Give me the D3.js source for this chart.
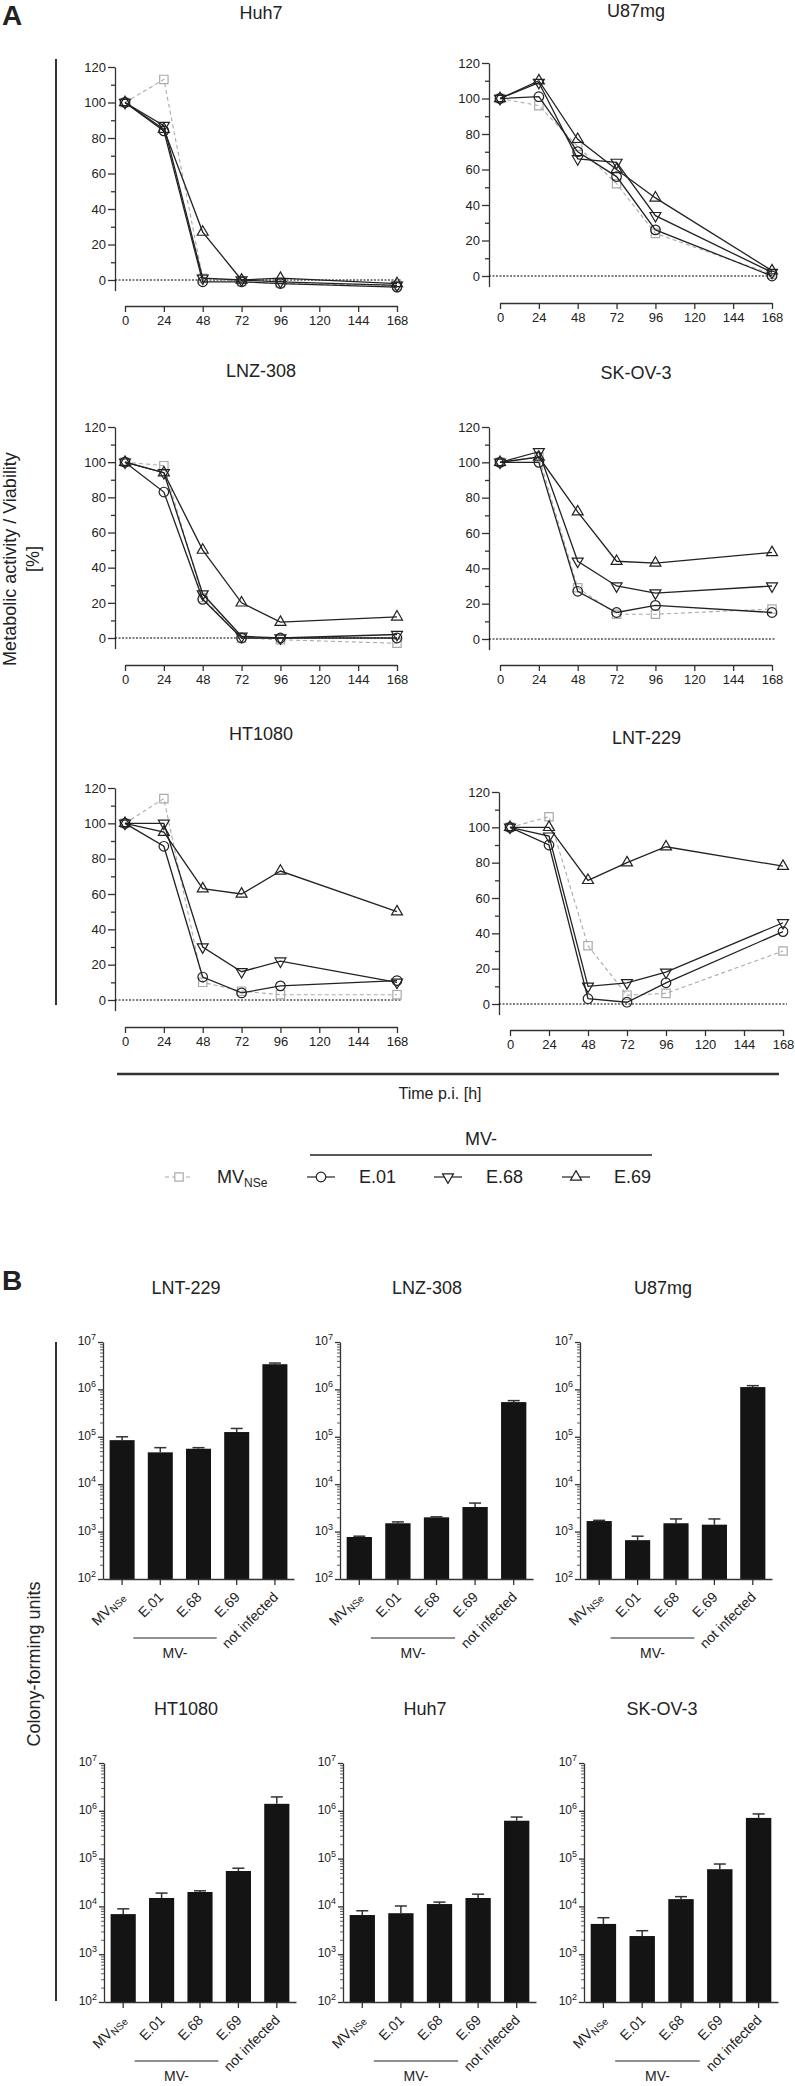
<!DOCTYPE html>
<html>
<head>
<meta charset="utf-8">
<script src="https://cdn.jsdelivr.net/npm/d3@7"></script>
<style>
  body { margin: 0; background: #fff; }
  text { font-family: "Liberation Sans", Arial, sans-serif; fill: #222; }
</style>
</head>
<body>
<script>
// ---- data: panel A (metabolic activity, %) ----
const times = [0, 24, 48, 72, 96, 168];
const timeTicks = [0, 24, 48, 72, 96, 120, 144, 168];
const seriesNames = ["MVNSe", "E.01", "E.68", "E.69"];
// rows = MVNSe, E.01, E.68, E.69
const huh7 = [[100, 113, 1, -1, -2, -3], [100, 84, -1, -1, -2, -4], [100, 87, 1, 0, -1, -3], [100, 85, 27, 0, 1, -2]];
const u87mg = [[100, 96, 73, 52, 24, 1], [100, 101, 70, 56, 26, 0], [100, 109, 66, 64, 34, 2], [100, 110, 77, 60, 44, 3]];
const lnz308 = [[100, 98, 23, 0, -1, -3], [100, 83, 22, 0, 0, 0], [100, 94, 25, 1, 0, 2], [100, 94, 50, 20, 9, 12]];
const skov3 = [[100, 103, 29, 14, 14, 17], [100, 100, 27, 15, 19, 15], [100, 106, 44, 30, 26, 30], [100, 103, 72, 44, 43, 49]];
const ht1080 = [[100, 114, 10, 5, 3, 3], [100, 87, 13, 4, 8, 11], [100, 100, 30, 16, 22, 10], [100, 95, 63, 60, 73, 50]];
const lnt229 = [[100, 106, 33, 5, 6, 30], [100, 90, 3, 1, 12, 41], [100, 95, 10, 12, 18, 46], [100, 100, 70, 80, 89, 78]];

// ---- data: panel B (colony-forming units) ----
const barCats = ["MVNSe", "E.01", "E.68", "E.69", "not infected"];
const cfuLNT229 = [8.5e4, 4.7e4, 5.6e4, 1.26e5, 3.4e6];
const sdLNT229 = [1.5e4, 1.2e4, 3e3, 2.4e4, 2e5];
const cfuLNZ308 = [7.7e2, 1.5e3, 2.0e3, 3.3e3, 5.4e5];
const sdLNZ308 = [30, 100, 50, 700, 4e4];
const cfuU87mg = [1.67e3, 6.6e2, 1.5e3, 1.4e3, 1.12e6];
const sdU87mg = [60, 140, 350, 450, 8e4];
const cfuHT1080 = [6.9e3, 1.5e4, 2.0e4, 5.5e4, 1.4e6];
const sdHT1080 = [2e3, 4e3, 1.2e3, 8e3, 5.5e5];
const cfuHuh7 = [6.6e3, 7.2e3, 1.12e4, 1.5e4, 6.2e5];
const sdHuh7 = [1.5e3, 3e3, 1.1e3, 3e3, 1.2e5];
const cfuSKOV3 = [4.3e3, 2.4e3, 1.42e4, 6.0e4, 7.1e5];
const sdSKOV3 = [1.5e3, 7e2, 1.8e3, 1.7e4, 1.5e5];

const W = 795, H = 2086;
const svg = d3.select("body").append("svg").attr("width", W).attr("height", H);

const axisColor = "#333";
const symbols = [
  {type: d3.symbolSquare, size: 70, rot: 0},
  {type: d3.symbolCircle, size: 72, rot: 0},
  {type: d3.symbolTriangle, size: 52, rot: 180},
  {type: d3.symbolTriangle, size: 52, rot: 0}
];
const seriesColor = ["#aaa", "#222", "#222", "#222"];

function styleAxis(g, fs) {
  g.selectAll("path, line").attr("stroke", axisColor).attr("stroke-width", 1.3);
  g.selectAll("text").attr("font-size", fs).attr("fill", "#333")
    .style("font-family", '"Liberation Sans", Arial, sans-serif');
}

// ----- panel A -----
function linePanel(p, title, data) {
  const x = d3.scaleLinear().domain([0, 168]).range([p.x0, p.x1]);
  const unit = (p.y0 - p.y120) / 120;
  const y = d3.scaleLinear().domain([-6, 120]).range([p.y0 + 6 * unit, p.y120]);
  const g = svg.append("g");

  g.append("text").attr("x", (p.x0 + p.x1) / 2).attr("y", p.ty)
    .attr("text-anchor", "middle").attr("font-size", 18).text(title);

  const ya = g.append("g").attr("transform", `translate(${p.ax},0)`)
    .call(d3.axisLeft(y).tickValues(d3.range(0, 121, 20)).tickSize(7).tickSizeOuter(0).tickPadding(2));
  styleAxis(ya, 13);
  const ym = g.append("g").attr("transform", `translate(${p.ax},0)`)
    .call(d3.axisLeft(y).tickValues(d3.range(10, 120, 20)).tickSize(4).tickFormat(""));
  ym.select(".domain").remove();
  styleAxis(ym, 13);

  const xa = g.append("g").attr("transform", `translate(0,${p.xa})`)
    .call(d3.axisBottom(x).tickValues(timeTicks).tickSize(6).tickSizeOuter(0).tickPadding(4));
  styleAxis(xa, 13);

  g.append("line").attr("x1", p.ax).attr("x2", x(168) + 4)
    .attr("y1", y(0)).attr("y2", y(0))
    .attr("stroke", "#000").attr("stroke-width", 1).attr("stroke-dasharray", "2,1.5");

  const line = d3.line().x((d, i) => x(times[i])).y(d => y(d));
  data.forEach((vals, s) => {
    g.append("path").datum(vals).attr("d", line).attr("fill", "none")
      .attr("stroke", seriesColor[s]).attr("stroke-width", s === 0 ? 1.1 : 1.3)
      .attr("stroke-dasharray", s === 0 ? "4,3" : null);
    const sym = d3.symbol().type(symbols[s].type).size(symbols[s].size);
    g.selectAll(null).data(vals).join("path")
      .attr("transform", (d, i) => `translate(${x(times[i])},${y(d)}) rotate(${symbols[s].rot})`)
      .attr("d", sym).attr("fill", "none")
      .attr("stroke", s === 0 ? "#aaa" : "#222").attr("stroke-width", 1.2);
  });
}

const linePanels = [
  {ax: 115, x0: 125, x1: 397, y0: 280, y120: 67, xa: 306, ty: 19},
  {ax: 489, x0: 500, x1: 772, y0: 276, y120: 63, xa: 303, ty: 17},
  {ax: 115, x0: 125, x1: 397, y0: 638, y120: 427, xa: 665, ty: 377},
  {ax: 489, x0: 500, x1: 772, y0: 639, y120: 427, xa: 665, ty: 379},
  {ax: 115, x0: 125, x1: 397, y0: 1000, y120: 788, xa: 1027, ty: 740},
  {ax: 499, x0: 510, x1: 783, y0: 1004, y120: 792, xa: 1030, ty: 744}
];
const lineData = [huh7, u87mg, lnz308, skov3, ht1080, lnt229];
const lineTitles = ["Huh7", "U87mg", "LNZ-308", "SK-OV-3", "HT1080", "LNT-229"];
lineData.forEach((d, i) => linePanel(linePanels[i], lineTitles[i], d));

// panel A frame + labels
svg.append("text").attr("x", 2).attr("y", 25).attr("font-size", 28).attr("font-weight", "bold").text("A");
svg.append("line").attr("x1", 56).attr("x2", 56).attr("y1", 59).attr("y2", 1005)
  .attr("stroke", "#333").attr("stroke-width", 2);
const ylab = svg.append("text").attr("transform", "translate(16,559) rotate(-90)")
  .attr("text-anchor", "middle").attr("font-size", 18);
ylab.append("tspan").attr("x", 0).attr("dy", 0).text("Metabolic activity / Viability");
ylab.append("tspan").attr("x", 0).attr("dy", 23).text("[%]");
svg.append("line").attr("x1", 117).attr("x2", 779).attr("y1", 1074).attr("y2", 1074)
  .attr("stroke", "#333").attr("stroke-width", 2.5);
svg.append("text").attr("x", 440).attr("y", 1099).attr("text-anchor", "middle")
  .attr("font-size", 16).text("Time p.i. [h]");

// legend
const legendX = [179, 321, 448, 576];
const legendY = 1177;
seriesNames.forEach((name, s) => {
  const cx = legendX[s];
  svg.append("line").attr("x1", cx - 14).attr("x2", cx + 14).attr("y1", legendY).attr("y2", legendY)
    .attr("stroke", seriesColor[s]).attr("stroke-width", 1.2)
    .attr("stroke-dasharray", s === 0 ? "4,3" : null);
  svg.append("path").attr("transform", `translate(${cx},${legendY}) rotate(${symbols[s].rot})`)
    .attr("d", d3.symbol().type(symbols[s].type).size(symbols[s].size)())
    .attr("fill", "#fff").attr("stroke", s === 0 ? "#aaa" : "#222").attr("stroke-width", 1.2);
  const t = svg.append("text").attr("x", cx + 38).attr("y", legendY + 6).attr("font-size", 18);
  if (s === 0) {
    t.append("tspan").text("MV");
    t.append("tspan").attr("font-size", 12).attr("dy", 4).text("NSe");
  } else {
    t.text(name);
  }
});
svg.append("line").attr("x1", 310).attr("x2", 652).attr("y1", 1155).attr("y2", 1155)
  .attr("stroke", "#222").attr("stroke-width", 1.5);
svg.append("text").attr("x", 481).attr("y", 1145).attr("text-anchor", "middle")
  .attr("font-size", 18).text("MV-");

// ----- panel B -----
function barPanel(p, title, means, sds) {
  const x = d3.scaleBand().domain(barCats).range([p.ax, p.x1]).paddingInner(0.345).paddingOuter(0.1725);
  const y = d3.scaleLog().domain([1e2, 1e7]).range([p.y2, p.y7]);
  const g = svg.append("g");

  g.append("text").attr("x", p.tx).attr("y", p.ty).attr("text-anchor", "middle")
    .attr("font-size", 18).text(title);

  g.selectAll(".bar").data(means).join("rect")
    .attr("x", (d, i) => x(barCats[i])).attr("width", x.bandwidth())
    .attr("y", d => y(d)).attr("height", d => y(1e2) - y(d))
    .attr("fill", "#141414");

  // upper error bars
  means.forEach((m, i) => {
    const cx = x(barCats[i]) + x.bandwidth() / 2;
    const top = y(m + sds[i]);
    g.append("line").attr("x1", cx).attr("x2", cx).attr("y1", y(m)).attr("y2", top)
      .attr("stroke", "#333").attr("stroke-width", 1.5);
    g.append("line").attr("x1", cx - 6).attr("x2", cx + 6).attr("y1", top).attr("y2", top)
      .attr("stroke", "#333").attr("stroke-width", 1.5);
  });

  const majors = d3.range(2, 8).map(k => Math.pow(10, k));
  const minors = [];
  d3.range(2, 7).forEach(k => d3.range(2, 10).forEach(m => minors.push(m * Math.pow(10, k))));
  const ya = g.append("g").attr("transform", `translate(${p.ax},0)`)
    .call(d3.axisLeft(y).tickValues(majors).tickSize(5).tickSizeOuter(0).tickFormat(""));
  styleAxis(ya, 12);
  const ym = g.append("g").attr("transform", `translate(${p.ax},0)`)
    .call(d3.axisLeft(y).tickValues(minors).tickSize(3).tickFormat(""));
  ym.select(".domain").remove();
  styleAxis(ym, 12);
  ym.selectAll("line").attr("stroke-width", 0.8);
  majors.forEach(v => {
    const t = g.append("text").attr("x", p.ax - 7).attr("y", y(v) + 3)
      .attr("text-anchor", "end").attr("font-size", 12).attr("fill", "#333");
    t.append("tspan").text("10");
    t.append("tspan").attr("font-size", 9).attr("dy", -5).text(Math.log10(v));
  });

  const xa = g.append("g").attr("transform", `translate(0,${p.y2})`)
    .call(d3.axisBottom(x).tickSize(6).tickSizeOuter(0).tickFormat(""));
  styleAxis(xa, 12);

  barCats.forEach(c => {
    const cx = x(c) + x.bandwidth() / 2;
    const t = g.append("text").attr("transform", `translate(${cx + 4},${p.y2 + 19}) rotate(-45)`)
      .attr("text-anchor", "end").attr("font-size", 14);
    if (c === "MVNSe") {
      t.append("tspan").text("MV");
      t.append("tspan").attr("font-size", 10).attr("dy", 2).text("NSe");
    } else {
      t.text(c);
    }
  });

  const xa1 = x("E.01") + x.bandwidth() / 2 - 27;
  const xa2 = x("E.69") + x.bandwidth() / 2 - 20;
  g.append("line").attr("x1", xa1).attr("x2", xa2).attr("y1", p.y2 + 59).attr("y2", p.y2 + 59)
    .attr("stroke", "#222").attr("stroke-width", 1.2);
  g.append("text").attr("x", (xa1 + xa2) / 2).attr("y", p.y2 + 79).attr("text-anchor", "middle")
    .attr("font-size", 14).text("MV-");
}

const barPanels = [
  {ax: 103, x1: 294, y2: 1579, y7: 1342, tx: 186, ty: 1294},
  {ax: 340, x1: 533, y2: 1579, y7: 1342, tx: 427, ty: 1294},
  {ax: 580, x1: 772, y2: 1579, y7: 1342, tx: 663, ty: 1294},
  {ax: 104, x1: 296, y2: 2002, y7: 1763, tx: 186, ty: 1715},
  {ax: 343, x1: 536, y2: 2002, y7: 1763, tx: 425, ty: 1715},
  {ax: 584, x1: 778, y2: 2002, y7: 1763, tx: 662, ty: 1715}
];
const barTitles = ["LNT-229", "LNZ-308", "U87mg", "HT1080", "Huh7", "SK-OV-3"];
const barMeans = [cfuLNT229, cfuLNZ308, cfuU87mg, cfuHT1080, cfuHuh7, cfuSKOV3];
const barSds = [sdLNT229, sdLNZ308, sdU87mg, sdHT1080, sdHuh7, sdSKOV3];
barMeans.forEach((m, i) => barPanel(barPanels[i], barTitles[i], m, barSds[i]));

svg.append("text").attr("x", 2).attr("y", 1290).attr("font-size", 28).attr("font-weight", "bold").text("B");
svg.append("line").attr("x1", 56).attr("x2", 56).attr("y1", 1342).attr("y2", 2001)
  .attr("stroke", "#333").attr("stroke-width", 2);
svg.append("text").attr("transform", "translate(40,1664) rotate(-90)")
  .attr("text-anchor", "middle").attr("font-size", 18).text("Colony-forming units");
</script>
</body>
</html>
